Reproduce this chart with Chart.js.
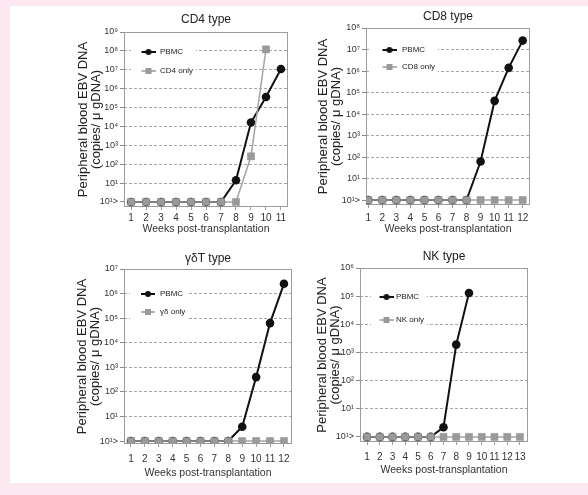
<!DOCTYPE html>
<html>
<head>
<meta charset="utf-8">
<script src="https://cdn.jsdelivr.net/npm/chart.js@4.4.0/dist/chart.umd.min.js"></script>
<style>
  html, body { margin: 0; padding: 0; }
  body { width: 588px; height: 495px; background: #fce8f0; position: relative; overflow: hidden; }
  #sheet { position: absolute; left: 10px; top: 6px; width: 578px; height: 477px; background: #fff; }
  canvas { position: absolute; }
</style>
</head>
<body>
<div id="sheet"></div>
<script>
// weeks post-transplantation
const weeks11 = [1, 2, 3, 4, 5, 6, 7, 8, 9, 10, 11];
const weeks12 = [1, 2, 3, 4, 5, 6, 7, 8, 9, 10, 11, 12];
const weeks13 = [1, 2, 3, 4, 5, 6, 7, 8, 9, 10, 11, 12, 13];

// copies / ug DNA; undetectable (<10^1) sits on the 10^0 line, labelled "10¹>"
const cd4Pbmc = [1, 1, 1, 1, 1, 1, 1, 14, 16000, 360000, 11000000];
const cd4Only = [1, 1, 1, 1, 1, 1, 1, 1, 260, 120000000, null];
const cd8Pbmc = [1, 1, 1, 1, 1, 1, 1, 1, 62, 41000, 1400000, 26000000];
const cd8Only = [1, 1, 1, 1, 1, 1, 1, 1, 1, 1, 1, 1];
const gdPbmc = [1, 1, 1, 1, 1, 1, 1, 1, 3.8, 400, 63000, 2500000];
const gdOnly = [1, 1, 1, 1, 1, 1, 1, 1, 1, 1, 1, 1];
const nkPbmc = [1, 1, 1, 1, 1, 1, 2.2, 1900, 130000, null, null, null, null];
const nkOnly = [1, 1, 1, 1, 1, 1, 1, 1, 1, 1, 1, 1, 1];

const yTickLabels = ['10¹>', '10¹', '10²', '10³', '10⁴', '10⁵', '10⁶', '10⁷', '10⁸', '10⁹'];
const panelTitles = ['CD4 type', 'CD8 type', 'γδT type', 'NK type'];
const onlyLabels = ['CD4 only', 'CD8 only', 'γδ only', 'NK only'];
const pbmcLabel = 'PBMC';
const yTitle = ['Peripheral blood EBV DNA', '(copies/ μ gDNA)'];
const xTitle = 'Weeks post-transplantation';

// page layout of each panel (canvas box, plot area, text rows)
const panels = [
  { weeks: weeks11, pbmc: cd4Pbmc, only: cd4Only, maxExp: 9, yMin: 0.54, xMin: 0.53, xMax: 11.47,
    box: [62, 6, 238, 234], plot: [124, 32, 288, 207], titleY: 20, yTitleX: 83, xTickY: 218, xTitleY: 229,
    legendDrop: 4, legendGap: 11 },
  { weeks: weeks12, pbmc: cd8Pbmc, only: cd8Only, maxExp: 8, yMin: 0.59, xMin: 0.84, xMax: 12.52,
    box: [300, 6, 245, 234], plot: [366, 28, 530, 205], titleY: 17, yTitleX: 323, xTickY: 218, xTitleY: 229,
    legendDrop: 6, legendGap: 9 },
  { weeks: weeks12, pbmc: gdPbmc, only: gdOnly, maxExp: 7, yMin: 0.76, xMin: 0.5, xMax: 12.58,
    box: [62, 240, 238, 243], plot: [124, 269, 292, 444], titleY: 259, yTitleX: 82, xTickY: 459, xTitleY: 473,
    legendDrop: 9, legendGap: 10 },
  { weeks: weeks13, pbmc: nkPbmc, only: nkOnly, maxExp: 6, yMin: 0.66, xMin: 0.45, xMax: 13.63,
    box: [300, 240, 245, 243], plot: [360, 268, 528, 442], titleY: 257, yTitleX: 322, xTickY: 457, xTitleY: 470,
    legendDrop: 13, legendGap: 15 }
];

const FONT = '"Liberation Sans", Arial, Helvetica, sans-serif';
Chart.defaults.font.family = FONT;

const BLACK = '#111111';
const GREY = '#9a9a9a';
const LEGEND_X = 12;

function legendIcon(color, width, marker) {
  const c = document.createElement('canvas');
  c.width = 20;
  c.height = 10;
  const g = c.getContext('2d');
  g.strokeStyle = color;
  g.fillStyle = color;
  g.lineWidth = width;
  g.beginPath();
  g.moveTo(6, 5);
  g.lineTo(20, 5);
  g.stroke();
  if (marker === 'circle') {
    g.beginPath();
    g.arc(13, 5, 3, 0, Math.PI * 2);
    g.fill();
  } else {
    g.fillRect(10, 2, 6, 6);
  }
  return c;
}
const icons = [legendIcon(BLACK, 2, 'circle'), legendIcon(GREY, 1.5, 'rect')];

function decade(v) {
  const e = Math.log10(v);
  const r = Math.round(e);
  return Math.abs(e - r) < 1e-6 ? r : null;
}

// plot frame + white patch behind the legend, legend redrawn on top
const framePlugin = {
  id: 'frame',
  beforeDatasetsDraw(chart) {
    const { ctx, chartArea: a, legend } = chart;
    ctx.save();
    ctx.strokeStyle = '#9c9c9c';
    ctx.lineWidth = 1;
    ctx.strokeRect(Math.round(a.left) + 0.5, Math.round(a.top) + 0.5,
      Math.round(a.right - a.left) - 1, Math.round(a.bottom - a.top) - 1);
    const hb = legend.legendHitBoxes || [];
    if (hb.length) {
      const l = Math.min(...hb.map((h) => h.left)) - 4;
      const t = Math.min(...hb.map((h) => h.top)) - 4;
      const r = Math.max(...hb.map((h) => h.left + h.width)) + 3;
      const b = Math.max(...hb.map((h) => h.top + h.height)) + 4;
      ctx.fillStyle = '#ffffff';
      ctx.fillRect(l, t, r - l, b - t);
    }
    ctx.restore();
    legend.draw();
  }
};

panels.forEach((p, k) => {
  const [bx, by, bw, bh] = p.box;
  const [pl, pt, pr, pb] = p.plot;
  const canvas = document.createElement('canvas');
  canvas.width = bw;
  canvas.height = bh;
  canvas.style.left = bx + 'px';
  canvas.style.top = by + 'px';
  document.body.appendChild(canvas);

  const titleLH = 14.4;
  const titlePadTop = p.titleY - by - titleLH / 2;
  const yTitleLH = 13;
  const xTitleLH = 12.6;
  const xTickFont = 10;
  // a vertical legend in the chart area starts at the canvas top, so push it down to the plot
  const legendTop = (pt - by) + p.legendDrop + LEGEND_X - p.legendGap;

  new Chart(canvas, {
    type: 'line',
    data: {
      datasets: [
        {
          label: pbmcLabel,
          data: p.weeks.map((w, i) => ({ x: w, y: p.pbmc[i] })),
          borderColor: BLACK,
          backgroundColor: BLACK,
          borderWidth: 2,
          pointStyle: 'circle',
          pointRadius: 4.3,
          pointBorderWidth: 0,
          tension: 0,
          order: 1
        },
        {
          label: onlyLabels[k],
          data: p.weeks.map((w, i) => ({ x: w, y: p.only[i] })),
          borderColor: '#a4a4a4',
          backgroundColor: GREY,
          borderWidth: 1.5,
          pointStyle: 'rect',
          pointRadius: 5,
          pointBorderColor: '#8e8e8e',
          pointBorderWidth: 0.5,
          tension: 0,
          order: 0
        }
      ]
    },
    options: {
      responsive: false,
      animation: false,
      layout: { padding: { left: 0, top: 0, right: bx + bw - pr, bottom: 0 } },
      scales: {
        x: {
          type: 'linear',
          min: p.xMin,
          max: p.xMax,
          afterFit: (s) => { s.height = by + bh - pb; },
          grid: { drawOnChartArea: false, tickLength: 3, tickColor: '#a0a0a0' },
          border: { display: false },
          ticks: {
            stepSize: 1, includeBounds: false, autoSkip: false, maxRotation: 0,
            padding: p.xTickY - pb - 3 - xTickFont * 0.6, color: '#333', font: { size: xTickFont }
          },
          title: {
            display: true, text: xTitle, color: '#333',
            font: { size: 10.5, lineHeight: xTitleLH + 'px' },
            padding: { top: 0, bottom: by + bh - p.xTitleY - xTitleLH / 2 }
          }
        },
        y: {
          type: 'logarithmic',
          min: p.yMin,
          max: Math.pow(10, p.maxExp),
          afterFit: (s) => { s.width = pl - bx; },
          grid: {
            color: (c) => {
              const e = decade(c.tick.value);
              return e !== null && e >= 1 && e < p.maxExp ? '#a6a6a6' : 'rgba(0,0,0,0)';
            },
            tickColor: (c) => (decade(c.tick.value) !== null && c.tick.value >= 1 ? '#8a8a8a' : 'rgba(0,0,0,0)'),
            tickLength: 4,
            lineWidth: 1
          },
          border: { display: false, dash: [3, 2] },
          ticks: {
            autoSkip: false, padding: 2, color: '#333', font: { size: 9 },
            callback: (v) => {
              const e = decade(v);
              return e !== null && e >= 0 && e <= p.maxExp ? yTickLabels[e] : '';
            }
          },
          title: {
            display: true, text: yTitle, color: '#222',
            font: { size: 13, lineHeight: yTitleLH + 'px' },
            padding: { top: p.yTitleX - bx - yTitleLH / 2, bottom: 0 }
          }
        }
      },
      plugins: {
        title: {
          display: true, text: panelTitles[k], fullSize: false, color: '#222',
          font: { size: 12, weight: 'normal', lineHeight: titleLH + 'px' },
          padding: { top: titlePadTop, bottom: pt - by - titlePadTop - titleLH }
        },
        legend: {
          position: 'chartArea',
          align: 'start',
          title: { display: true, text: '', padding: 0, font: { size: legendTop, lineHeight: 1 } },
          labels: {
            usePointStyle: true,
            pointStyleWidth: 20 + LEGEND_X - p.legendGap,
            boxHeight: 8,
            padding: p.legendGap,
            color: '#222',
            font: { size: 8 },
            sort: (a, b) => a.datasetIndex - b.datasetIndex,
            generateLabels: (chart) => chart.data.datasets.map((ds, i) => ({
              text: ds.label, datasetIndex: i, pointStyle: icons[i], hidden: false,
              fontColor: '#222', lineWidth: 0, strokeStyle: 'rgba(0,0,0,0)', fillStyle: 'rgba(0,0,0,0)'
            }))
          }
        },
        tooltip: { enabled: false }
      }
    },
    plugins: [framePlugin]
  });
});
</script>
</body>
</html>
